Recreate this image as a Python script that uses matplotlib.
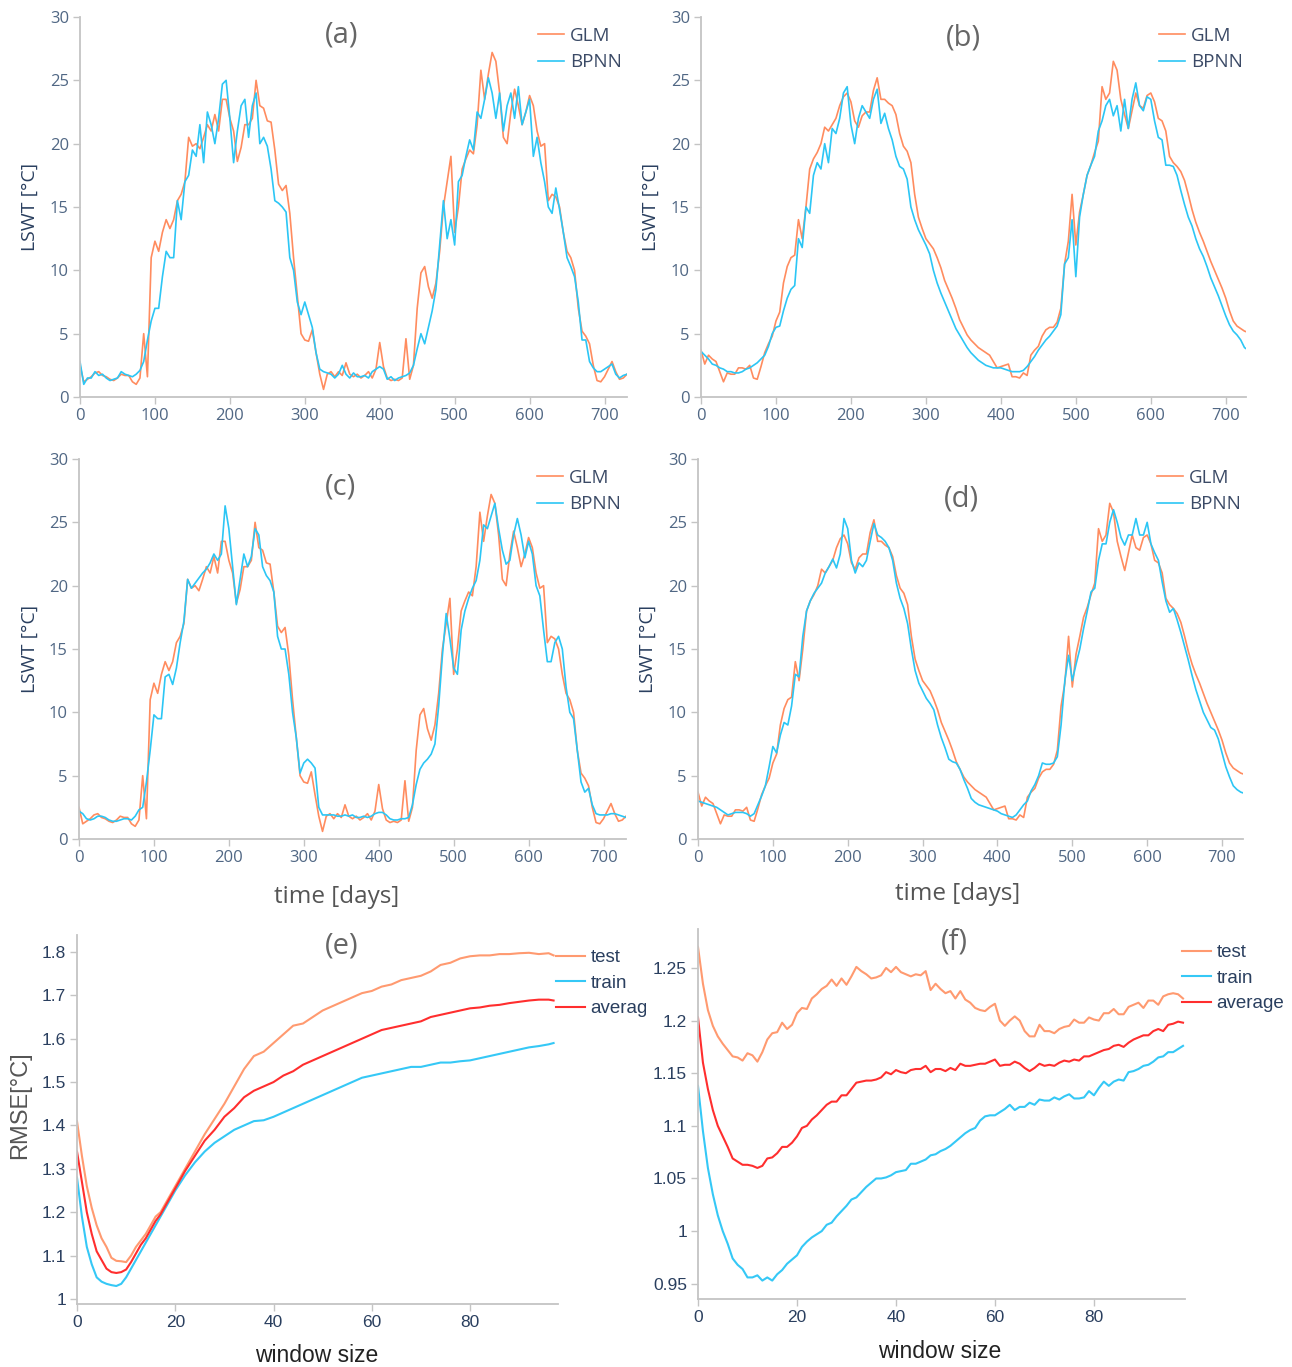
import numpy as np
import matplotlib.pyplot as plt
from matplotlib.ticker import FuncFormatter
from matplotlib.transforms import Bbox

W, H = 1292, 1367

# ---- data: lake surface water temperature, every 5 days ----
days = np.arange(0, 731, 5)

glm_1 = [  # GLM, panels (a) and (c)
    2.5, 1.2, 1.4, 1.6, 1.9, 2.0, 1.7, 1.6, 1.4, 1.3,
    1.5, 1.8, 1.7, 1.7, 1.2, 1.0, 1.5, 5.0, 1.6, 11.0,
    12.3, 11.5, 13.0, 14.0, 13.3, 14.0, 15.5, 16.0, 17.0, 20.5,
    19.8, 20.0, 19.6, 20.5, 21.5, 21.0, 22.3, 21.0, 23.5, 23.5,
    22.0, 21.0, 18.6, 19.7, 21.5, 21.5, 22.0, 25.0, 23.0, 22.8,
    21.8, 21.7, 19.5, 16.8, 16.3, 16.7, 14.5, 11.0, 8.0, 5.0,
    4.5, 4.4, 5.3, 3.5, 1.8, 0.6, 1.8, 2.0, 1.6, 2.0,
    1.7, 2.7, 1.8, 1.6, 1.8, 1.5, 1.7, 2.0, 1.5, 2.2,
    4.3, 2.4, 1.5, 1.3, 1.4, 1.3, 1.5, 4.6, 1.4, 2.5,
    7.0, 9.8, 10.3, 8.7, 7.8, 9.0, 11.5, 15.0, 17.0, 19.0,
    13.0, 15.0, 18.0, 18.8, 19.5, 19.2, 21.5, 25.8, 23.5, 25.5,
    27.2, 26.5, 24.0, 20.5, 20.0, 22.5, 24.3, 23.0, 21.5, 22.5,
    23.8, 23.0, 21.0, 19.8, 20.0, 15.5, 16.0, 15.8, 15.0, 13.0,
    11.5, 11.0, 10.0, 7.0, 5.2, 4.8, 4.2, 2.5, 1.3, 1.2,
    1.6, 2.2, 2.8, 2.0, 1.4, 1.5, 1.8]

bpnn_a = [
    2.8, 1.0, 1.5, 1.5, 2.0, 1.7, 1.8, 1.5, 1.3, 1.4,
    1.5, 2.0, 1.8, 1.7, 1.6, 1.8, 2.1, 2.8, 4.5, 6.0,
    7.0, 7.0, 9.5, 11.5, 11.0, 11.0, 15.5, 14.0, 17.0, 17.5,
    19.5, 19.0, 21.5, 18.5, 22.5, 21.5, 20.0, 22.0, 24.7, 25.0,
    22.0, 18.5, 21.0, 23.0, 23.5, 20.5, 23.0, 24.0, 20.0, 20.5,
    19.8, 18.0, 15.5, 15.3, 15.0, 14.6, 11.0, 10.0, 7.5, 6.5,
    7.5, 6.5, 5.5, 3.5, 2.2, 2.0, 1.9, 1.8, 1.5, 1.8,
    2.5, 1.8, 1.5, 1.9, 1.6, 1.6, 1.7, 1.5, 2.0, 2.2,
    2.4, 2.2, 1.4, 1.6, 1.3, 1.5, 1.6, 1.7, 1.9, 2.5,
    3.8, 5.0, 4.2, 5.5, 6.8, 8.5, 12.0, 15.5, 12.5, 14.0,
    12.0, 17.0, 17.5, 19.0, 20.3, 19.5, 22.5, 22.0, 23.5, 25.2,
    24.0, 22.0, 24.0, 21.0, 23.0, 24.0, 22.0, 24.5, 21.5, 22.5,
    23.5, 19.0, 20.5, 18.5, 17.0, 15.0, 14.5, 16.5, 14.8, 13.0,
    11.0, 10.3, 9.5, 7.5, 4.5, 4.5, 2.8, 2.3, 2.0, 2.0,
    2.2, 2.4, 2.6, 1.8, 1.5, 1.7, 1.8]

bpnn_c = [
    2.2, 2.0, 1.6, 1.5, 1.6, 1.8, 1.8, 1.7, 1.5, 1.4,
    1.4, 1.5, 1.6, 1.6, 1.5, 1.8, 2.3, 2.5, 4.5, 7.0,
    9.8, 9.5, 9.5, 12.8, 13.0, 12.2, 13.5, 15.5, 17.2, 20.5,
    19.8, 20.2, 20.6, 21.0, 21.3, 21.8, 22.5, 22.0, 22.5, 26.3,
    24.5, 21.5, 18.5, 20.5, 22.5, 21.5, 22.3, 24.5, 24.0, 21.5,
    20.8, 20.4, 19.5, 16.0, 15.0, 15.0, 13.0, 10.0, 8.0, 5.2,
    6.0, 6.3, 6.0, 5.6, 2.5, 1.9, 1.9, 1.9, 1.9, 1.8,
    1.8, 1.9, 1.8, 1.9, 1.7, 1.7, 1.8, 1.7, 1.8, 2.0,
    2.1, 2.1, 1.9, 1.6, 1.5, 1.5, 1.6, 1.6, 1.7, 2.7,
    4.3, 5.5, 6.0, 6.3, 6.7, 7.5, 10.5, 14.5, 17.8, 15.8,
    13.5, 13.0, 16.5, 18.0, 19.0, 19.8, 20.4, 22.0, 24.8, 24.5,
    25.5, 26.5, 24.5, 22.8, 21.7, 22.0, 24.0, 25.3, 24.0, 22.2,
    23.5, 22.5, 20.0, 19.2, 16.5, 14.0, 14.0, 15.5, 16.0, 15.0,
    12.0, 10.0, 9.5, 7.0, 4.5, 3.7, 4.0, 2.7, 2.0, 1.9,
    1.9, 1.9, 2.0, 2.0, 1.9, 1.8, 1.7]

glm_2 = [  # GLM, panels (b) and (d)
    3.7, 2.6, 3.3, 3.0, 2.8, 2.0, 1.2, 1.9, 1.8, 1.8,
    2.3, 2.3, 2.2, 2.5, 1.5, 1.4, 2.4, 3.5, 4.2, 4.8,
    6.0, 6.7, 9.0, 10.3, 11.0, 11.2, 14.0, 12.5, 15.0, 18.0,
    18.8, 19.3, 20.0, 21.3, 21.0, 21.5, 22.0, 23.0, 23.7, 24.0,
    23.3, 21.8, 21.3, 22.2, 22.5, 22.5, 24.2, 25.2, 23.5, 23.5,
    23.2, 23.0, 22.3, 20.8, 19.8, 19.4, 18.5, 16.0, 14.2, 13.3,
    12.5, 12.1, 11.7, 11.0, 10.2, 9.2, 8.5, 7.8, 7.0, 6.1,
    5.5, 4.9, 4.5, 4.2, 3.9, 3.7, 3.5, 3.3, 2.8, 2.3,
    2.4, 2.5, 2.6, 1.6, 1.6, 1.5, 1.9, 1.7, 3.3, 3.7,
    4.0, 4.8, 5.3, 5.5, 5.5, 5.9, 7.0, 10.5, 12.3, 16.0,
    12.0, 14.6, 16.0, 17.5, 18.3, 19.3, 20.2, 24.5, 23.5, 24.0,
    26.5, 25.8, 23.5, 22.3, 21.2, 22.6, 24.0, 23.0, 22.8, 23.8,
    24.0, 23.3, 22.0, 21.8, 21.0, 19.0, 18.5, 18.2, 17.8, 17.1,
    16.0, 14.8, 13.8, 13.0, 12.3, 11.5, 10.7, 10.0, 9.3, 8.6,
    7.8, 6.8, 6.0, 5.6, 5.4, 5.2, 5.1]

bpnn_b = [
    3.6, 3.3, 3.0, 2.6, 2.5, 2.3, 2.2, 2.0, 2.0, 1.9,
    1.9, 2.0, 2.2, 2.3, 2.5, 2.7, 3.0, 3.3, 4.0, 5.0,
    5.5, 5.6, 6.8, 7.8, 8.5, 8.8, 12.5, 11.8, 15.0, 14.5,
    17.5, 18.5, 18.0, 20.0, 18.5, 21.2, 20.8, 22.0, 24.0, 24.5,
    21.5, 20.0, 22.0, 23.0, 22.5, 22.0, 23.5, 24.3, 21.6, 22.4,
    21.2, 20.3, 19.0, 18.2, 18.0, 17.2, 15.0, 14.0, 13.2, 12.6,
    12.0, 11.3, 10.0, 9.0, 8.2, 7.5, 6.8, 6.1, 5.4, 4.9,
    4.4, 3.9, 3.5, 3.2, 2.9, 2.7, 2.5, 2.4, 2.3, 2.3,
    2.3, 2.2, 2.1, 2.0, 2.0, 2.0, 2.1, 2.4, 2.8, 3.2,
    3.7, 4.1, 4.5, 4.8, 5.2, 5.6, 6.5, 10.5, 11.0, 14.0,
    9.5, 14.2, 16.0, 17.5, 18.3, 19.0, 21.0, 21.8, 23.0, 23.5,
    22.2, 23.0, 21.0, 23.5, 21.2, 23.5, 24.8, 23.0, 22.6, 23.7,
    23.5, 21.8, 20.5, 20.3, 18.3, 18.3, 18.2, 17.5, 16.3, 15.2,
    14.2, 13.5, 12.5, 11.7, 11.1, 10.3, 9.4, 8.7, 8.0, 7.2,
    6.4, 5.7, 5.2, 4.9, 4.5, 3.9, 3.7]

bpnn_d = [
    3.0, 2.9, 2.8, 2.7, 2.6, 2.5, 2.3, 2.1, 1.9, 2.0,
    2.1, 2.1, 2.1, 2.0, 1.8, 2.0, 2.7, 3.4, 4.2, 5.7,
    7.3, 6.8, 8.2, 9.2, 9.0, 10.5, 13.0, 12.8, 16.0, 18.0,
    18.8, 19.4, 19.8, 20.2, 21.0, 21.5, 22.1, 21.4, 22.5, 25.3,
    24.5, 22.0, 21.0, 21.8, 21.5, 22.0, 23.5, 24.9, 24.0, 23.8,
    23.5, 23.0, 22.0, 20.2, 19.0, 18.2, 17.0, 15.0, 13.3, 12.3,
    11.7, 11.1, 10.7, 10.2, 9.0, 8.0, 7.2, 6.3, 6.1, 6.0,
    5.5, 4.7, 4.0, 3.2, 2.9, 2.7, 2.6, 2.5, 2.4, 2.3,
    2.2, 2.0, 1.9, 1.8, 1.7, 1.9, 2.3, 2.7, 3.0, 3.8,
    4.3, 5.0, 6.0, 5.9, 5.9, 6.0, 6.5, 9.0, 12.5, 14.5,
    12.5, 13.8, 15.0, 16.6, 18.0, 19.5, 19.8, 22.0, 23.3, 23.3,
    25.0, 26.0, 25.0, 23.8, 23.2, 24.0, 24.0, 25.3, 24.0, 24.0,
    25.0, 23.3, 22.6, 22.0, 20.3, 18.8, 17.9, 18.2, 17.3, 16.3,
    15.2, 14.1, 12.9, 11.8, 10.9, 10.0, 9.4, 8.8, 8.6, 7.9,
    6.8, 5.7, 4.9, 4.2, 3.9, 3.7, 3.6]

# ---- data: RMSE vs window size ----
win_e = list(range(0, 21)) + list(range(22, 97, 2)) + [97]
test_e = [1.41, 1.33, 1.26, 1.21, 1.17, 1.14, 1.12, 1.095, 1.088, 1.087,
          1.085, 1.10, 1.12, 1.135, 1.15, 1.17, 1.19, 1.20, 1.22, 1.24, 1.26,
          1.30, 1.34, 1.38, 1.415, 1.45, 1.49, 1.53, 1.56, 1.57, 1.59,
          1.61, 1.63, 1.635, 1.65, 1.665, 1.675, 1.685, 1.695, 1.705, 1.71,
          1.72, 1.725, 1.735, 1.74, 1.745, 1.755, 1.77, 1.775, 1.785, 1.79,
          1.792, 1.792, 1.795, 1.795, 1.797, 1.798, 1.795, 1.797, 1.792]
train_e = [1.28, 1.19, 1.12, 1.08, 1.05, 1.04, 1.035, 1.032, 1.03, 1.035,
           1.05, 1.07, 1.09, 1.11, 1.13, 1.15, 1.17, 1.19, 1.21, 1.23, 1.25,
           1.285, 1.315, 1.34, 1.36, 1.375, 1.39, 1.40, 1.41, 1.412, 1.42,
           1.43, 1.44, 1.45, 1.46, 1.47, 1.48, 1.49, 1.50, 1.51, 1.515,
           1.52, 1.525, 1.53, 1.535, 1.535, 1.54, 1.545, 1.545, 1.548, 1.55,
           1.555, 1.56, 1.565, 1.57, 1.575, 1.58, 1.583, 1.587, 1.59]
avg_e = [1.34, 1.27, 1.20, 1.15, 1.11, 1.09, 1.07, 1.062, 1.06, 1.062,
         1.068, 1.085, 1.105, 1.125, 1.14, 1.16, 1.18, 1.195, 1.215, 1.235, 1.255,
         1.295, 1.33, 1.365, 1.39, 1.42, 1.44, 1.465, 1.48, 1.49, 1.50,
         1.515, 1.525, 1.54, 1.55, 1.56, 1.57, 1.58, 1.59, 1.60, 1.61,
         1.62, 1.625, 1.63, 1.635, 1.64, 1.65, 1.655, 1.66, 1.665, 1.67,
         1.672, 1.676, 1.678, 1.682, 1.685, 1.688, 1.69, 1.69, 1.688]

win_f = list(range(0, 99))
test_f = [1.27, 1.235, 1.21, 1.195, 1.185, 1.178, 1.172, 1.166, 1.165, 1.162,
          1.169, 1.167, 1.161, 1.17, 1.182, 1.188, 1.189, 1.198, 1.192, 1.196,
          1.207, 1.212, 1.211, 1.221, 1.225, 1.23, 1.233, 1.239, 1.233, 1.24,
          1.234, 1.242, 1.251, 1.247, 1.244, 1.24, 1.241, 1.243, 1.25, 1.246,
          1.251, 1.246, 1.244, 1.242, 1.244, 1.243, 1.247, 1.229, 1.235, 1.23,
          1.226, 1.228, 1.221, 1.228, 1.22, 1.217, 1.212, 1.21, 1.209, 1.213,
          1.216, 1.2, 1.195, 1.2, 1.204, 1.2, 1.19, 1.185, 1.185, 1.196,
          1.19, 1.19, 1.188, 1.192, 1.194, 1.195, 1.201, 1.198, 1.198, 1.203,
          1.201, 1.2, 1.207, 1.207, 1.211, 1.206, 1.206, 1.213, 1.215, 1.217,
          1.212, 1.219, 1.219, 1.215, 1.223, 1.225, 1.226, 1.225, 1.221]
avg_f = [1.203, 1.16, 1.135, 1.115, 1.10, 1.09, 1.08, 1.069, 1.066, 1.063,
         1.063, 1.062, 1.06, 1.062, 1.069, 1.07, 1.074, 1.08, 1.08, 1.084,
         1.09, 1.098, 1.1, 1.106, 1.11, 1.115, 1.12, 1.123, 1.123, 1.129,
         1.129, 1.135, 1.141, 1.142, 1.143, 1.143, 1.144, 1.146, 1.151, 1.149,
         1.153, 1.151, 1.15, 1.153, 1.154, 1.154, 1.157, 1.151, 1.154, 1.154,
         1.152, 1.155, 1.153, 1.159, 1.157, 1.157, 1.158, 1.159, 1.159, 1.161,
         1.163, 1.157, 1.158, 1.158, 1.161, 1.159, 1.155, 1.152, 1.155, 1.159,
         1.157, 1.158, 1.157, 1.16, 1.162, 1.161, 1.163, 1.162, 1.166, 1.166,
         1.168, 1.17, 1.172, 1.173, 1.176, 1.177, 1.175, 1.179, 1.182, 1.184,
         1.186, 1.186, 1.19, 1.192, 1.19, 1.196, 1.197, 1.199, 1.198]
train_f = [1.138, 1.095, 1.06, 1.035, 1.015, 1.0, 0.988, 0.974, 0.968, 0.964,
           0.956, 0.956, 0.958, 0.953, 0.956, 0.953, 0.959, 0.963, 0.969, 0.973,
           0.977, 0.985, 0.99, 0.994, 0.997, 1.0, 1.006, 1.008, 1.014, 1.019,
           1.024, 1.03, 1.032, 1.037, 1.042, 1.046, 1.05, 1.05, 1.051, 1.053,
           1.056, 1.057, 1.058, 1.064, 1.064, 1.066, 1.068, 1.072, 1.073, 1.076,
           1.078, 1.081, 1.085, 1.089, 1.093, 1.096, 1.098, 1.105, 1.109, 1.11,
           1.11, 1.113, 1.116, 1.12, 1.115, 1.118, 1.118, 1.122, 1.12, 1.125,
           1.124, 1.124, 1.127, 1.125, 1.128, 1.13, 1.126, 1.126, 1.127, 1.133,
           1.129, 1.136, 1.142, 1.138, 1.142, 1.144, 1.143, 1.151, 1.152, 1.154,
           1.157, 1.158, 1.161, 1.165, 1.166, 1.17, 1.17, 1.173, 1.176]

# ---- style ----
C_GLM, C_BPNN = '#ff8c5f', '#2cc6f5'
C_TEST, C_TRAIN, C_AVG = '#ff9a70', '#35c8f6', '#ff2e2e'
AX_COL = '#c4c4c4'
OPEN = ['Open Sans', 'DejaVu Sans']
LIB = ['Liberation Sans', 'DejaVu Sans']

fig = plt.figure(figsize=(W / 100, H / 100), dpi=100)


def px_axes(l, t, r, b):
    return fig.add_axes([l / W, 1 - b / H, (r - l) / W, (b - t) / H])


def fx(x):
    return x / W


def fy(y):
    return 1 - y / H


def style(ax, family, tick_col, fs):
    for s in ('top', 'right'):
        ax.spines[s].set_visible(False)
    for s in ('left', 'bottom'):
        ax.spines[s].set_color(AX_COL)
        ax.spines[s].set_linewidth(1.3)
    ax.tick_params(direction='out', length=5, width=1, color=AX_COL,
                   labelcolor=tick_col, labelsize=fs, pad=3)
    for lab in ax.get_xticklabels() + ax.get_yticklabels():
        lab.set_family(family)


def add_legend(ax, handles, x, y, family, fs, hl, col):
    leg = ax.legend(handles=handles, loc='upper left',
                    bbox_to_anchor=(fx(x), fy(y)), bbox_transform=fig.transFigure,
                    frameon=False, borderaxespad=0, borderpad=0,
                    handlelength=hl, handletextpad=0.3, labelspacing=0.45,
                    prop={'family': family, 'size': fs})
    for t in leg.get_texts():
        t.set_color(col)
    return leg


# time-series panels: (box, glm, bpnn, xmax, title, title pos, ylabel x, legend pos)
ts_panels = [
    ((80, 17, 627, 397), glm_1, bpnn_a, 730, '(a)', (342, 35), 30, (538, 27)),
    ((701, 17, 1246, 397), glm_2, bpnn_b, 727, '(b)', (963, 38), 651, (1159, 27)),
    ((79, 459, 626, 839), glm_1, bpnn_c, 730, '(c)', (340, 487), 30, (537, 469)),
    ((698, 459, 1243, 839), glm_2, bpnn_d, 728, '(d)', (961, 499), 648, (1157, 469)),
]

for box, g, bp, xmax, title, tpos, ylx, lpos in ts_panels:
    ax = px_axes(*box)
    lg, = ax.plot(days, g, color=C_GLM, lw=1.2, label='GLM')
    lb, = ax.plot(days, bp, color=C_BPNN, lw=1.2, label='BPNN')
    ax.set_xlim(0, xmax)
    ax.set_ylim(0, 30)
    ax.set_xticks(range(0, 701, 100))
    ax.set_yticks(range(0, 31, 5))
    style(ax, OPEN, '#506784', 12)
    add_legend(ax, [lg, lb], lpos[0], lpos[1], OPEN, 13.5, 1.4, '#3b4a66')
    fig.text(fx(tpos[0]), fy(tpos[1]), title, family=OPEN, size=21,
             color='#666666', ha='center', va='center')
    fig.text(fx(ylx), fy((box[1] + box[3]) / 2), 'LSWT [°C]', family=OPEN,
             size=14, color='#2a3f5f', rotation=90, ha='center', va='center')

fig.text(fx(337), fy(897), 'time [days]', family=OPEN, size=17.5,
         color='#555555', ha='center', va='center')
fig.text(fx(958), fy(894), 'time [days]', family=OPEN, size=17.5,
         color='#555555', ha='center', va='center')

fmt = FuncFormatter(lambda v, p: '{:g}'.format(round(v, 3)))

# (e)
ax = px_axes(77, 935, 558, 1304)
h1, = ax.plot(win_e, test_e, color=C_TEST, lw=1.5, label='test')
h2, = ax.plot(win_e, train_e, color=C_TRAIN, lw=1.5, label='train')
h3, = ax.plot(win_e, avg_e, color=C_AVG, lw=1.5, label='average')
ax.set_xlim(0, 97.9)
ax.set_ylim(0.9885, 1.839)
ax.set_xticks(range(0, 81, 20))
ax.set_yticks(np.arange(1.0, 1.81, 0.1))
ax.yaxis.set_major_formatter(fmt)
style(ax, LIB, '#2a3f5f', 12.5)
leg = add_legend(ax, [h1, h2, h3], 556, 949, LIB, 13.5, 1.55, '#2a3f5f')
for t in leg.get_texts():
    t.set_clip_box(Bbox.from_extents(0, 0, 646, H))
    t.set_clip_on(True)
fig.text(fx(342), fy(946), '(e)', family=OPEN, size=21, color='#666666',
         ha='center', va='center')
fig.text(fx(20), fy(1105), 'RMSE[°C]', family=LIB, size=17, color='#555555',
         rotation=90, ha='center', va='center')
fig.text(fx(317), fy(1356), 'window size', family=LIB, size=16.5,
         color='#222222', ha='center', va='center')

# (f)
ax = px_axes(698, 929, 1185, 1299)
h1, = ax.plot(win_f, test_f, color=C_TEST, lw=1.5, label='test')
h2, = ax.plot(win_f, train_f, color=C_TRAIN, lw=1.5, label='train')
h3, = ax.plot(win_f, avg_f, color=C_AVG, lw=1.5, label='average')
ax.set_xlim(0, 98.4)
ax.set_ylim(0.9355, 1.287)
ax.set_xticks(range(0, 81, 20))
ax.set_yticks(np.arange(0.95, 1.2501, 0.05))
ax.yaxis.set_major_formatter(fmt)
style(ax, LIB, '#2a3f5f', 12.5)
add_legend(ax, [h1, h2, h3], 1182, 944, LIB, 13.5, 1.55, '#2a3f5f')
fig.text(fx(954), fy(942), '(f)', family=OPEN, size=21, color='#666666',
         ha='center', va='center')
fig.text(fx(940), fy(1352), 'window size', family=LIB, size=16.5,
         color='#222222', ha='center', va='center')

fig.savefig('out.png', dpi=100, facecolor='white')
